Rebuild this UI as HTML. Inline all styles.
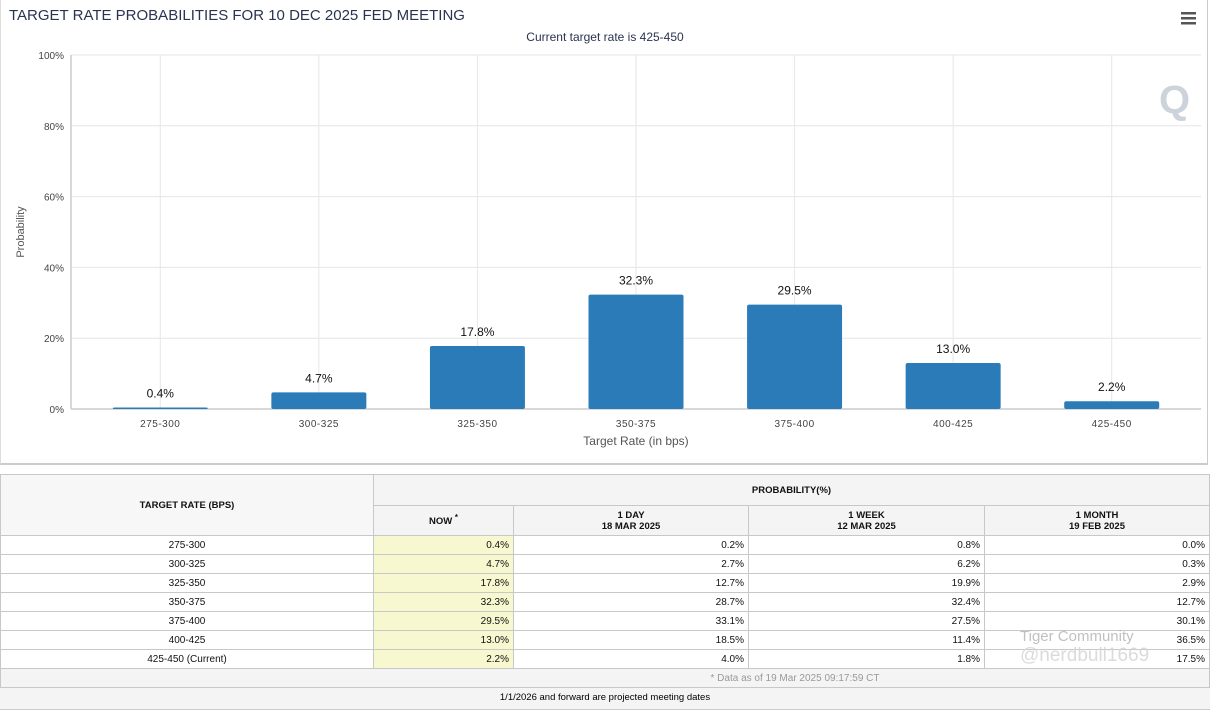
<!DOCTYPE html>
<html><head><meta charset="utf-8">
<style>
body{margin:0;width:1213px;height:714px;background:#fff;position:relative;overflow:hidden;font-family:"Liberation Sans",Arial,sans-serif}
#chartbox{position:absolute;left:0;top:0;width:1208px;height:465px;border-right:1px solid #ccc;border-bottom:2px solid #ccc;border-left:1px solid #ddd;box-sizing:border-box}
table{position:absolute;left:0;top:474px;width:1210px;border-collapse:collapse;font-size:10px;color:#111}
td,th{border:1px solid #c8c8c8;padding:0 4px;height:18px}
th{background:#f4f4f4;font-weight:bold;font-size:9.5px}
td.r{text-align:right}
td.c{text-align:center}
td.now{background:#f8f8d0}
.foot{position:absolute;left:0;width:1210px;text-align:center;font-size:9.5px}
</style></head><body>
<div id="chartbox">
<svg id="chart" width="1208" height="465"></svg>
</div>
<table>
<tr style="height:31px"><th rowspan="2" style="width:364px;background:#f7f7f7">TARGET RATE (BPS)</th><th colspan="4" style="height:30px">PROBABILITY(%)</th></tr>
<tr style="height:30px"><th style="width:131px">NOW <sup>*</sup></th><th style="width:226px">1 DAY<br>18 MAR 2025</th><th style="width:227px">1 WEEK<br>12 MAR 2025</th><th>1 MONTH<br>19 FEB 2025</th></tr>
<tbody id="tb"></tbody>
<tr><td colspan="5" style="background:#f4f4f4;color:#999;text-align:center;height:18px"><span style="padding-left:380px">* Data as of 19 Mar 2025 09:17:59 CT</span></td></tr>
</table>
<div class="foot" style="top:688px;height:21px;line-height:20px;background:#f4f4f4;border-bottom:1px solid #ccc">1/1/2026 and forward are projected meeting dates</div>
<div style="position:absolute;left:1020px;top:628px;color:rgba(150,150,150,0.6);font-size:15px">Tiger Community<br><span style="font-size:19px;color:rgba(210,210,210,0.8)">@nerdbull1669</span></div>
<script>
const categories=["275-300","300-325","325-350","350-375","375-400","400-425","425-450"];
const nowVals=[0.4,4.7,17.8,32.3,29.5,13.0,2.2];
const dayVals=[0.2,2.7,12.7,28.7,33.1,18.5,4.0];
const weekVals=[0.8,6.2,19.9,32.4,27.5,11.4,1.8];
const monthVals=[0.0,0.3,2.9,12.7,30.1,36.5,17.5];
const yTicks=[0,20,40,60,80,100];
const NS="http://www.w3.org/2000/svg";
const svg=document.getElementById('chart');
const L=70,R=1200,T=55,B=409,CL=80,CR=1190;
const bw=(CR-CL)/categories.length;
const y=v=>B-(v/100)*(B-T);
const x=i=>CL+bw*(i+0.5);
function mk(t,a){const e=document.createElementNS(NS,t);for(const k in a)e.setAttribute(k,a[k]);svg.appendChild(e);return e;}
let e=mk('text',{x:8,y:20,'font-size':15,fill:'#2a3350'});e.textContent='TARGET RATE PROBABILITIES FOR 10 DEC 2025 FED MEETING';


e=mk('text',{x:604,y:41,'font-size':12,fill:'#2a3350','text-anchor':'middle'});e.textContent='Current target rate is 425-450';


e=mk('g',{});


for(let k=0;k<3;k++){const r=document.createElementNS(NS,'rect');r.setAttribute('x',1180);r.setAttribute('y',12+k*5);r.setAttribute('width',15);r.setAttribute('height',2.5);r.setAttribute('fill','#555');e.appendChild(r);}
yTicks.forEach(t=>{
 const g=mk('line',{x1:L,x2:R,y1:y(t),y2:y(t),stroke:'#e6e6e6'});
 
 
 const l=mk('text',{x:L-7,y:y(t)+4,'font-size':10,fill:'#444','text-anchor':'end'});l.textContent=t+'%';
 
 
});
categories.forEach((c,i)=>{
 const g=mk('line',{x1:x(i),x2:x(i),y1:T,y2:B,stroke:'#e6e6e6'});
 
 
});
let ax=mk('line',{x1:L,x2:L,y1:T,y2:B,stroke:'#ccc','stroke-width':1.5});


ax=mk('line',{x1:L,x2:R,y1:B,y2:B,stroke:'#ccc','stroke-width':1.5});


categories.forEach((c,i)=>{
 const w=95,h=Math.max(B-y(nowVals[i]),1.5);
 const b=mk('rect',{x:x(i)-w/2,y:B-h,width:w,height:h,fill:'#2b7bb9',rx:2});
 
 
 const v=mk('text',{x:x(i),y:y(nowVals[i])-10,'font-size':12,fill:'#111','text-anchor':'middle'});v.textContent=nowVals[i].toFixed(1)+'%';
 
 
 const l=mk('text',{x:x(i),y:B+18,'font-size':10,fill:'#444','text-anchor':'middle','letter-spacing':'0.5'});l.textContent=c;
 
 
});
e=mk('text',{x:635,y:445,'font-size':12,fill:'#555','text-anchor':'middle'});e.textContent='Target Rate (in bps)';


e=mk('text',{x:0,y:0,'font-size':11,fill:'#555','text-anchor':'middle',transform:'translate(23,232) rotate(-90)'});e.textContent='Probability';


e=mk('text',{x:1158,y:113,'font-size':40,'font-weight':'bold',fill:'#cdd3da'});e.textContent='Q';


const tb=document.getElementById('tb');
categories.forEach((c,i)=>{
 const tr=document.createElement('tr');
 
 
 const f=v=>v.toFixed(1)+'%';
 tr.innerHTML='<td class="c">'+c+(i==6?' (Current)':'')+'</td><td class="r now">'+f(nowVals[i])+'</td><td class="r">'+f(dayVals[i])+'</td><td class="r">'+f(weekVals[i])+'</td><td class="r">'+f(monthVals[i])+'</td>';
 tb.appendChild(tr);
});
</script>
</body></html>
